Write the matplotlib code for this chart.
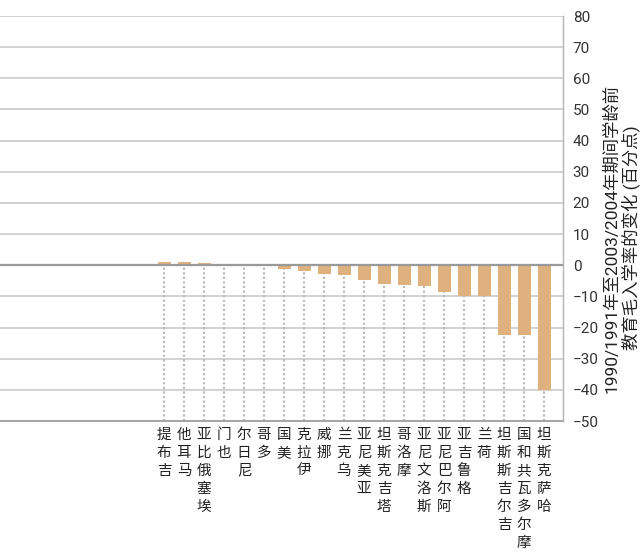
import numpy as np
import matplotlib
matplotlib.use("Agg")
import matplotlib.pyplot as plt

plt.rcParams['font.family'] = ['Noto Sans CJK SC', 'DejaVu Sans']

# data
countries = ["吉布提", "马耳他", "埃塞俄比亚", "也门", "尼日尔", "多哥", "美国",
             "伊拉克", "挪威", "乌克兰", "亚美尼亚", "塔吉克斯坦", "摩洛哥",
             "斯洛文尼亚", "阿尔巴尼亚", "格鲁吉亚", "荷兰", "吉尔吉斯斯坦",
             "摩尔多瓦共和国", "哈萨克斯坦"]
change = [1.0, 1.0, 0.6, 0.0, 0.0, 0.0, -1.3, -1.9, -2.9, -3.2, -4.8, -6.1,
          -6.5, -6.8, -8.7, -10.0, -10.0, -22.3, -22.3, -40.0]
yticks = list(range(-50, 81, 10))
ylabel = "1990/1991年至2003/2004年期间学龄前\n教育毛入学率的变化 (百分点)"

bar_color = "#deb17e"

fig = plt.figure(figsize=(6.43, 5.59), dpi=100)
ax = fig.add_axes([0.0, 1 - 421 / 559, 563 / 643, (421 - 16) / 559])

x = np.arange(len(countries))

# grid + zero line
for t in yticks:
    if t == 0:
        continue
    ax.axhline(t, color="#cfcfcf", lw=1.3, zorder=0)
ax.axhline(0, color="#9a9a9a", lw=1.6, zorder=3)

# dotted guides under each category
ax.vlines(x, -50, 0, colors="#b8b8b8", lw=1.5, linestyles=(0, (1, 1.2)), zorder=1)

ax.bar(x, change, width=0.65, color=bar_color, zorder=2)

ax.set_xlim(-8.2, 19.95)
ax.set_ylim(-50, 80)
ax.set_xticks([])

ax.yaxis.tick_right()
ax.set_yticks(yticks)
ax.tick_params(axis="y", length=0, pad=7, labelsize=11, labelcolor="#333333")
for lab in ax.get_yticklabels():
    lab.set_family(['Roboto', 'DejaVu Sans'])

for side in ["top", "left"]:
    ax.spines[side].set_visible(False)
ax.spines["right"].set_color("#b5b5b5")
ax.spines["right"].set_linewidth(1.0)
ax.spines["bottom"].set_color("#a8a8a8")
ax.spines["bottom"].set_linewidth(1.5)

# category labels: upright characters stacked, read bottom to top
for xi, name in zip(x, countries):
    stacked = "\n".join(reversed(name))
    ax.text(xi, -52.2, stacked, ha="center", va="top", fontsize=10.5,
            linespacing=1.36, color="#222222", transform=ax.transData)

fig.text(622 / 643, 1 - 238 / 559, ylabel, rotation=90, ha="center", va="center",
         fontsize=12.5, color="#222222", linespacing=1.2,
         family=['Roboto', 'Noto Sans CJK SC', 'DejaVu Sans'])

fig.savefig("out.png", dpi=100)
